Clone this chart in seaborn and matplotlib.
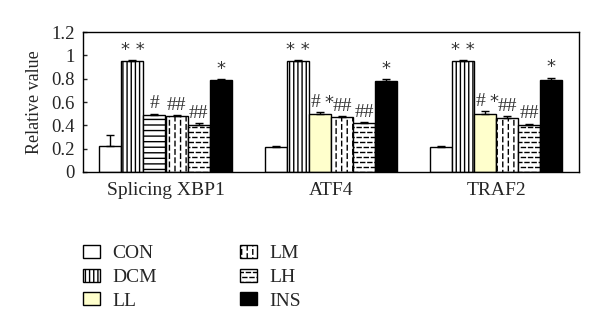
import matplotlib
matplotlib.use("Agg")
import matplotlib.pyplot as plt
import matplotlib.patches as mpatches
import matplotlib.hatch as mhatch
from matplotlib.path import Path
import seaborn as sns
import pandas as pd
import numpy as np

genes = ["Splicing XBP1", "ATF4", "TRAF2"]
groups = ["CON", "DCM", "LL", "LM", "LH", "INS"]
values = {
    "CON": [0.22, 0.21, 0.21],
    "DCM": [0.95, 0.95, 0.95],
    "LL":  [0.49, 0.50, 0.50],
    "LM":  [0.48, 0.47, 0.46],
    "LH":  [0.40, 0.42, 0.40],
    "INS": [0.79, 0.78, 0.79],
}
errors = {
    "CON": [0.10, 0.01, 0.01],
    "DCM": [0.01, 0.01, 0.01],
    "LL":  [0.01, 0.01, 0.02],
    "LM":  [0.01, 0.01, 0.02],
    "LH":  [0.02, 0.01, 0.015],
    "INS": [0.01, 0.02, 0.02],
}
marks = {
    "CON": ["", "", ""],
    "DCM": ["**", "**", "**"],
    "LL":  ["#", "#*", "#*"],
    "LM":  ["##", "##", "##"],
    "LH":  ["##", "##", "##"],
    "INS": ["*", "*", "*"],
}

# ---- custom dashed hatch patterns (vertical dashes "oO", horizontal dashes "*.")
_orig_get_path = mhatch.get_path


def _dash_path(vertical, n_lines, n_per, dash):
    verts, codes = [], []
    for i in range(n_lines):
        c = (i + 0.5) / n_lines
        shift = 0.5 / n_per if i % 2 else 0.0
        for j in range(n_per + 1):
            s = j / n_per + shift - 1.0 / n_per
            a, b = s, s + dash
            a, b = max(a, 0.0), min(b, 1.0)
            if b <= a:
                continue
            if vertical:
                verts += [(c, a), (c, b)]
            else:
                verts += [(a, c), (b, c)]
            codes += [Path.MOVETO, Path.LINETO]
    return Path(verts, codes)


def _get_path(hatchpattern, density=6):
    if hatchpattern == "oO":
        return _dash_path(True, 18, 12, 0.045)
    if hatchpattern == "*.":
        return _dash_path(False, 20, 14, 0.04)
    return _orig_get_path(hatchpattern, density)


mhatch.get_path = _get_path

rows = []
for g in groups:
    for i, gene in enumerate(genes):
        rows.append({"gene": gene, "group": g, "value": values[g][i]})
df = pd.DataFrame(rows)

sns.set_style("white")
plt.rcParams['font.family'] = ['Liberation Serif', 'DejaVu Serif']
plt.rcParams['hatch.linewidth'] = 1.0

face = {"CON": "white", "DCM": "white", "LL": "#FFFFCC", "LM": "white",
        "LH": "white", "INS": "black"}
hatch = {"CON": "", "DCM": "||||", "LL": "", "LM": "oO", "LH": "*.",
         "INS": ""}

fig = plt.figure(figsize=(6.0, 3.35), dpi=100)
ax = fig.add_axes([0.138, 0.487, 0.827, 0.417])

sns.barplot(data=df, x="gene", y="value", hue="group", order=genes,
            hue_order=groups, palette=face, edgecolor="black", linewidth=1.0,
            width=0.8, errorbar=None, legend=False, ax=ax, saturation=1)

bars = [p for p in ax.patches if isinstance(p, mpatches.Rectangle)]
k = 0
for g in groups:
    for i, gene in enumerate(genes):
        p = bars[k]
        k += 1
        h = hatch[g]
        if g == "LL" and i == 0:
            p.set_facecolor("white")
            h = "---"
        p.set_hatch(h)
        p.set_edgecolor("black")
        w = p.get_width()
        cx = p.get_x() + w / 2
        top = p.get_height()
        e = errors[g][i]
        ax.errorbar(cx, top, yerr=[[0], [e]], fmt="none", ecolor="black",
                    elinewidth=1.0, capsize=3, capthick=1.0)
        m = marks[g][i]
        y = top + e + 0.01
        if m == "#*":
            ax.text(cx - 0.2 * w, y, "#", ha="center", va="bottom",
                    fontsize=14, color="#333333")
            ax.text(cx + 0.4 * w, y - 0.005, "*", ha="center", va="bottom",
                    fontsize=13, family=['DejaVu Sans'], color="#333333")
        elif m == "**":
            ax.text(cx, y, "* *", ha="center", va="bottom", fontsize=13,
                    family=['DejaVu Sans'], color="#333333")
        elif m == "*":
            ax.text(cx, y, "*", ha="center", va="bottom", fontsize=13,
                    family=['DejaVu Sans'], color="#333333")
        elif m:
            ax.text(cx, y, m, ha="center", va="bottom", fontsize=14,
                    color="#333333")

ax.set_xlim(-0.5, 2.5)
ax.set_ylim(0, 1.2)
ax.set_yticks(np.arange(0, 1.21, 0.2))
ax.set_yticklabels(["0", "0.2", "0.4", "0.6", "0.8", "1", "1.2"])
ax.set_xticks(range(len(genes)))
ax.set_xticklabels(genes)
ax.set_xticks([0.5, 1.5], minor=True)
ax.tick_params(axis="x", which="major", length=0, labelsize=14, pad=7)
ax.tick_params(axis="x", which="minor", direction="in", length=3, width=1)
ax.tick_params(axis="y", direction="in", length=3, width=1, labelsize=13.5,
               left=True, pad=6)
ax.set_xlabel("")
ax.set_ylabel("Relative value", fontsize=13, labelpad=6)
for s in ax.spines.values():
    s.set_visible(True)
    s.set_color("black")
    s.set_linewidth(1.0)

handles = []
for g in groups:
    handles.append(mpatches.Patch(facecolor=face[g], edgecolor="black",
                                  hatch=hatch[g], linewidth=1.0, label=g))
fig.legend(handles=handles, labels=groups, ncol=2, loc="upper left",
           bbox_to_anchor=(83 / 600, 1 - 245 / 335), frameon=False,
           fontsize=14, handlelength=0.85, handleheight=0.65,
           handletextpad=0.65, columnspacing=4.3, labelspacing=0.33,
           borderpad=0, borderaxespad=0)

fig.savefig("out.png", dpi=100)
